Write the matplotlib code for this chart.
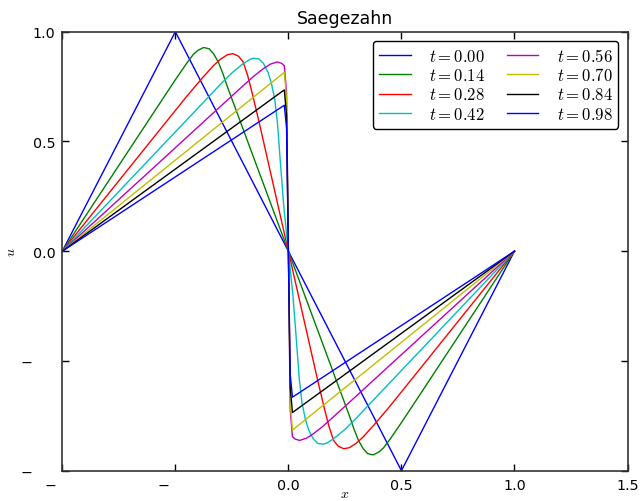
import matplotlib
matplotlib.use('Agg')
from matplotlib import pyplot as plt

# times of the snapshots
times = [0.00, 0.14, 0.28, 0.42, 0.56, 0.70, 0.84, 0.98]
colors = ['b', 'g', 'r', 'c', 'm', 'y', 'k', 'b']

# values
x_t000 = [-1.0, -0.5, 0.5, 1.0]
u_t000 = [0.0, 1.0, -1.0, 0.0]

x_t014 = [-1.0, -0.6, -0.5, -0.45, -0.42, -0.40, -0.375, -0.35, -0.33, -0.31, -0.29, -0.27, 0.0,
          0.27, 0.29, 0.31, 0.33, 0.35, 0.375, 0.40, 0.42, 0.45, 0.5, 0.6, 1.0]
u_t014 = [0.0, 0.625, 0.781, 0.856, 0.897, 0.915, 0.928, 0.922, 0.898, 0.862, 0.81, 0.75, 0.0,
          -0.75, -0.81, -0.862, -0.898, -0.922, -0.928, -0.915, -0.897, -0.856, -0.781, -0.625, 0.0]

x_t028 = [-1.0, -0.6, -0.45, -0.38, -0.33, -0.30, -0.27, -0.245, -0.22, -0.20, -0.18, -0.16, -0.13, 0.0,
          0.13, 0.16, 0.18, 0.20, 0.22, 0.245, 0.27, 0.30, 0.33, 0.38, 0.45, 0.6, 1.0]
u_t028 = [0.0, 0.513, 0.705, 0.79, 0.847, 0.875, 0.895, 0.90, 0.888, 0.862, 0.80, 0.72, 0.59, 0.0,
          -0.59, -0.72, -0.80, -0.862, -0.888, -0.90, -0.895, -0.875, -0.847, -0.79, -0.705, -0.513, 0.0]

x_t042 = [-1.0, -0.6, -0.4, -0.3, -0.25, -0.20, -0.17, -0.155, -0.13, -0.11, -0.09, -0.075, -0.06, -0.048,
          -0.035, -0.02, 0.0,
          0.02, 0.035, 0.048, 0.06, 0.075, 0.09, 0.11, 0.13, 0.155, 0.17, 0.20, 0.25, 0.3, 0.4, 0.6, 1.0]
u_t042 = [0.0, 0.435, 0.652, 0.761, 0.812, 0.855, 0.874, 0.879, 0.876, 0.855, 0.815, 0.765, 0.69, 0.58,
          0.40, 0.20, 0.0,
          -0.20, -0.40, -0.58, -0.69, -0.765, -0.815, -0.855, -0.876, -0.879, -0.874, -0.855, -0.812, -0.761,
          -0.652, -0.435, 0.0]

x_t056 = [-1.0, -0.6, -0.3, -0.2, -0.15, -0.11, -0.08, -0.05, -0.03, -0.018, -0.008, 0.0,
          0.008, 0.018, 0.03, 0.05, 0.08, 0.11, 0.15, 0.2, 0.3, 0.6, 1.0]
u_t056 = [0.0, 0.377, 0.66, 0.754, 0.80, 0.832, 0.852, 0.862, 0.856, 0.845, 0.72, 0.0,
          -0.72, -0.845, -0.856, -0.862, -0.852, -0.832, -0.80, -0.754, -0.66, -0.377, 0.0]

x_t070 = [-1.0, -0.018, -0.008, 0.0, 0.008, 0.018, 1.0]
u_t070 = [0.0, 0.815, 0.69, 0.0, -0.69, -0.815, 0.0]

x_t084 = [-1.0, -0.018, -0.008, 0.0, 0.008, 0.018, 1.0]
u_t084 = [0.0, 0.735, 0.62, 0.0, -0.62, -0.735, 0.0]

x_t098 = [-1.0, -0.018, -0.008, 0.0, 0.008, 0.018, 1.0]
u_t098 = [0.0, 0.665, 0.56, 0.0, -0.56, -0.665, 0.0]

xs = [x_t000, x_t014, x_t028, x_t042, x_t056, x_t070, x_t084, x_t098]
us = [u_t000, u_t014, u_t028, u_t042, u_t056, u_t070, u_t084, u_t098]

xticks = [-1.0, -0.5, 0.0, 0.5, 1.0, 1.5]
xticklabels = ['\u2212\u2007\u2008\u2007', '\u2212\u2007\u2008\u2007', '0.0', '0.5', '1.0', '1.5']
yticks = [-1.0, -0.5, 0.0, 0.5, 1.0]
yticklabels = ['\u2212\u2007\u2008\u2007', '\u2212\u2007\u2008\u2007', '0.0', '0.5', '1.0']

plt.rcParams['mathtext.fontset'] = 'cm'
plt.rcParams['font.family'] = ['DejaVu Sans']

fig = plt.figure(figsize=(6.41, 5.02), dpi=100)
fig.patch.set_facecolor('white')
ax = fig.add_axes([62.3/641, 30.3/502, 565.2/641, 439.0/502])

for x, u, t, c in zip(xs, us, times, colors):
    ax.plot(x, u, color=c, linewidth=1.0, label='$t=%.2f$' % t)

ax.set_xlim(-1.0, 1.5)
ax.set_ylim(-1.0, 1.0)
ax.set_xticks(xticks)
ax.set_xticklabels(xticklabels)
ax.set_yticks(yticks)
ax.set_yticklabels(yticklabels)
ax.tick_params(direction='in', top=True, right=True, length=5, width=1,
               labelsize=10.3, pad=5)
for sp in ax.spines.values():
    sp.set_linewidth(1.2)
    sp.set_color('#333333')

ax.set_title('Saegezahn', fontsize=12.5, pad=6)
ax.set_xlabel('$x$', fontsize=10, va='baseline')
ax.xaxis.set_label_coords(0.5, -0.061)
ax.set_ylabel('$u$', fontsize=10, labelpad=2)

leg = ax.legend(loc='upper right', ncol=2, fontsize=12, fancybox=True,
                handlelength=1.9, handletextpad=1.1, columnspacing=1.3,
                labelspacing=0.08, borderpad=0.35, borderaxespad=0.55)
leg.get_frame().set_edgecolor('black')
leg.get_frame().set_linewidth(1.0)
leg.get_frame().set_alpha(1.0)

plt.savefig('out.png', dpi=100, facecolor='white')
